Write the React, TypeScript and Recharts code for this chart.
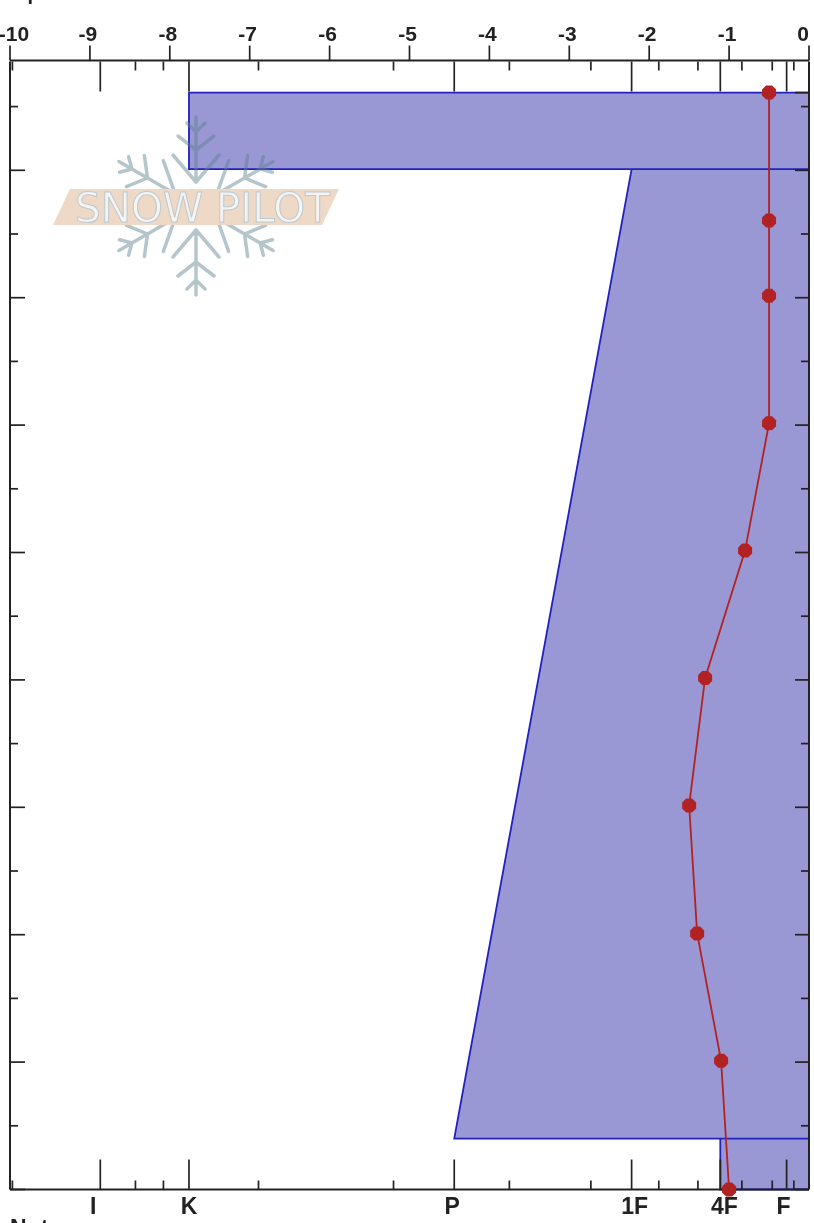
import React from 'react';
import { ComposedChart, Area, Line, XAxis, YAxis } from 'recharts';

// temperature profile
const tempDepths = [86.1, 76.05, 70.15, 60.15, 50.15, 40.15, 30.15, 20.1, 10.1, 0];
const tempValues = [-0.5, -0.5, -0.5, -0.5, -0.8, -1.3, -1.5, -1.4, -1.1, -1.0];

// hardness profile, on the same -10..0 scale
const hardnessDepths = [86.1, 86.1, 80.1, 80.1, 80.1, 4, 4, 4, 0, 0];
const hardnessValues = [0, -7.76, -7.76, 0, -2.22, -4.44, 0, -1.11, -1.11, 0];

const tempTicks = [-10, -9, -8, -7, -6, -5, -4, -3, -2, -1, 0];
const hardnessTicks = [-8.87, -7.76, -4.44, -2.22, -1.11, -0.28];
const hardnessLabels = ['I', 'K', 'P', '1F', '4F', 'F'];
const hardnessMinorTicks = [-9.97, -8.43, -8.08, -6.89, -5.2, -3.75, -2.73, -1.88, -1.39, -0.84, -0.46, -0.19];
const depthTicks = [0, 5, 10, 15, 20, 25, 30, 35, 40, 45, 50, 55, 60, 65, 70, 75, 80, 85];

const profile = hardnessDepths.map((depth, i) => ({ depth, hardness: hardnessValues[i] }));
const temps = tempDepths.map((depth, i) => ({ depth, temp: tempValues[i] }));

const AXIS = '#222222';
const FONT = '"Liberation Sans", Arial, sans-serif';
const labelNudge: Record<string, number> = { I: -7, K: 0, P: -2, '1F': 3, '4F': 4, F: -3 };

function TempTick({ x, y, payload }: any) {
  const v = payload.value;
  const dx = v === -10 ? 4 : v === 0 ? -6 : -2;
  return (
    <g>
      <line x1={x} x2={x} y1={y} y2={y - 15} stroke={AXIS} strokeWidth={1.7} />
      <text x={x + dx} y={41} textAnchor="middle" fontFamily={FONT} fontWeight="bold" fontSize={21} fill="#222">{v}</text>
    </g>
  );
}

function hardnessMark(value: number) {
  return hardnessTicks.includes(value) ? 30 : 9;
}

function HardTopTick({ x, payload }: any) {
  return <line x1={x} x2={x} y1={61.5} y2={61.5 + hardnessMark(payload.value)} stroke={AXIS} strokeWidth={1.7} />;
}

function HardBottomTick({ x, y, payload }: any) {
  const i = hardnessTicks.indexOf(payload.value);
  return (
    <g>
      <line x1={x} x2={x} y1={y} y2={y - hardnessMark(payload.value)} stroke={AXIS} strokeWidth={1.7} />
      {i >= 0 && (
        <text x={x + labelNudge[hardnessLabels[i]]} y={1214} textAnchor="middle" fontFamily={FONT} fontWeight="bold" fontSize={23} fill="#222">
          {hardnessLabels[i]}
        </text>
      )}
    </g>
  );
}

function LeftTick({ x, y, payload }: any) {
  const len = payload.value % 10 === 0 ? 15 : 8;
  return <line x1={x} x2={x + len} y1={y} y2={y} stroke={AXIS} strokeWidth={1.7} />;
}

function RightTick({ x, y, payload }: any) {
  const len = payload.value % 10 === 0 || payload.value === 86.1 ? 14 : 8;
  return <line x1={x} x2={x - len} y1={y} y2={y} stroke={AXIS} strokeWidth={1.7} />;
}

function TempDot({ cx, cy }: any) {
  const a = 7, b = 3;
  return (
    <polygon
      fill="#b22222"
      points={`${cx - b},${cy - a} ${cx + b},${cy - a} ${cx + a},${cy - b} ${cx + a},${cy + b} ${cx + b},${cy + a} ${cx - b},${cy + a} ${cx - a},${cy + b} ${cx - a},${cy - b}`}
    />
  );
}

function Logo() {
  const arm = 'M0,-24 V-89 M0,-24 L-23,-51 M0,-24 L23,-51 M0,-56 L-18,-70 M0,-56 L18,-70 M0,-74 L-9,-83 M0,-74 L9,-83';
  return (
    <svg width={814} height={1223} style={{ position: 'absolute', left: 0, top: 0, pointerEvents: 'none' }}>
      <g transform="translate(196,206)" opacity={0.45} stroke="#5d7f90" strokeWidth={3.5} strokeLinecap="round" fill="none">
        {[0, 60, 120, 180, 240, 300].map((r) => (
          <path key={r} d={arm} transform={`rotate(${r})`} />
        ))}
      </g>
      <polygon points="70,189 339,189 322,225 53,225" fill="#eed8c6" />
      <text
        x={75}
        y={222}
        textLength={255}
        lengthAdjust="spacingAndGlyphs"
        fontFamily='"DejaVu Sans", sans-serif'
        fontSize={40}
        fill="#f6f4f1"
        stroke="#bccad1"
        strokeWidth={1}
      >
        SNOW PILOT
      </text>
    </svg>
  );
}

export default function App() {
  return (
    <div style={{ position: 'absolute', left: 0, top: 0, width: 814, height: 1223, overflow: 'hidden', background: '#fff', filter: 'blur(0.4px)' }}>
      <ComposedChart
        width={814}
        height={1223}
        layout="vertical"
        data={profile}
        margin={{ top: 59.5, right: 4, bottom: 32.5, left: 9 }}
      >
        <XAxis xAxisId="temp" type="number" orientation="top" domain={[-10, 0]} ticks={tempTicks} interval={0} height={1} tickSize={0} tickMargin={0} tick={<TempTick />} stroke={AXIS} strokeWidth={2} />
        <XAxis xAxisId="hardTop" type="number" dataKey="hardness" orientation="top" domain={[-10, 0]} ticks={[...hardnessTicks, ...hardnessMinorTicks]} interval={0} height={1} tickSize={0} tickMargin={0} tick={<HardTopTick />} axisLine={false} />
        <XAxis xAxisId="hardBottom" type="number" dataKey="hardness" orientation="bottom" domain={[-10, 0]} ticks={[...hardnessTicks, ...hardnessMinorTicks]} interval={0} height={1} tickSize={0} tickMargin={0} tick={<HardBottomTick />} stroke={AXIS} strokeWidth={2} />
        <YAxis yAxisId="left" type="number" dataKey="depth" orientation="left" reversed domain={[0, 88.54]} ticks={depthTicks} interval={0} width={1} tickSize={0} tickMargin={0} tick={<LeftTick />} stroke={AXIS} strokeWidth={2} />
        <YAxis yAxisId="right" type="number" dataKey="depth" orientation="right" reversed domain={[0, 88.54]} ticks={[...depthTicks, 86.1]} interval={0} width={1} tickSize={0} tickMargin={0} tick={<RightTick />} stroke={AXIS} strokeWidth={2} />
        <Area
          xAxisId="temp"
          yAxisId="left"
          type="linear"
          dataKey="hardness"
          baseValue={0}
          stroke="#2222bb"
          strokeWidth={1.8}
          fill="#9a98d4"
          fillOpacity={1}
          dot={false}
          activeDot={false}
          isAnimationActive={false}
        />
        <Line
          xAxisId="temp"
          yAxisId="left"
          type="linear"
          data={temps}
          dataKey="temp"
          stroke="#b22222"
          strokeWidth={1.8}
          dot={<TempDot />}
          activeDot={false}
          isAnimationActive={false}
        />
        <text x={2} y={0} fontFamily={FONT} fontWeight="bold" fontSize={20} fill="#222">Depth</text>
        <text x={10} y={1236} fontFamily={FONT} fontWeight="bold" fontSize={23} fill="#222">Notes</text>
      </ComposedChart>
      <Logo />
    </div>
  );
}
